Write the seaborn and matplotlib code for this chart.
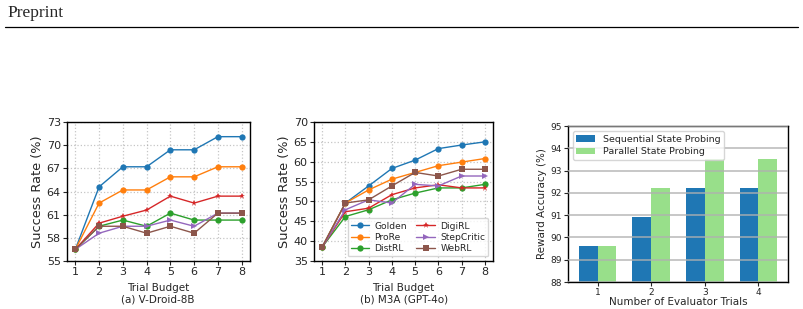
import pandas as pd
import seaborn as sns
import matplotlib.pyplot as plt

# ---- data ----
budget = [1, 2, 3, 4, 5, 6, 7, 8]
methods = ['Golden', 'ProRe', 'DistRL', 'DigiRL', 'StepCritic', 'WebRL']

# (a) V-Droid-8B
vdroid = {
    'Golden':     [56.5, 64.6, 67.2, 67.2, 69.4, 69.4, 71.1, 71.1],
    'ProRe':      [56.5, 62.5, 64.2, 64.2, 65.9, 65.9, 67.2, 67.2],
    'DistRL':     [56.5, 59.5, 60.3, 59.5, 61.2, 60.3, 60.3, 60.3],
    'DigiRL':     [56.5, 59.9, 60.8, 61.6, 63.4, 62.5, 63.4, 63.4],
    'StepCritic': [56.5, 58.6, 59.5, 59.5, 60.3, 59.5, 61.2, 61.2],
    'WebRL':      [56.5, 59.5, 59.5, 58.6, 59.5, 58.6, 61.2, 61.2],
}

# (b) M3A (GPT-4o)
m3a = {
    'Golden':     [38.5, 49.6, 53.9, 58.3, 60.4, 63.3, 64.2, 65.0],
    'ProRe':      [38.5, 49.6, 52.9, 55.6, 57.3, 59.0, 59.9, 60.8],
    'DistRL':     [38.5, 46.2, 47.9, 50.4, 52.1, 53.4, 53.4, 54.3],
    'DigiRL':     [38.5, 47.4, 48.3, 51.7, 53.4, 54.2, 53.4, 53.4],
    'StepCritic': [38.5, 47.9, 50.4, 49.6, 54.3, 53.9, 56.4, 56.4],
    'WebRL':      [38.5, 49.6, 50.4, 53.9, 57.3, 56.4, 58.1, 58.1],
}

# (c) reward accuracy
trials = ['1', '2', '3', '4']
sequential = [89.6, 90.9, 92.2, 92.2]
parallel = [89.6, 92.2, 93.5, 93.5]

colors = {'Golden': '#1f77b4', 'ProRe': '#ff7f0e', 'DistRL': '#2ca02c',
          'DigiRL': '#d62728', 'StepCritic': '#9467bd', 'WebRL': '#8c564b'}
markers = {'Golden': 'o', 'ProRe': 'o', 'DistRL': 'o',
           'DigiRL': '*', 'StepCritic': '>', 'WebRL': 's'}

sns.set_style('white')
plt.rcParams['font.family'] = ['DejaVu Sans']

fig = plt.figure(figsize=(8.04, 3.09), dpi=100)

# page header
fig.text(7 / 804, 1 - 13 / 309, 'Preprint', family='Liberation Serif',
         fontsize=12.5, va='center', ha='left')
fig.add_artist(plt.Line2D([5 / 804, 798 / 804], [1 - 27 / 309, 1 - 27 / 309],
                          color='black', linewidth=0.9))


def axes_px(left, top, right, bottom):
    return fig.add_axes([left / 804, 1 - bottom / 309,
                         (right - left) / 804, (bottom - top) / 309])


def line_panel(ax, data, ylim, yticks):
    for m in methods:
        sns.lineplot(x=budget, y=data[m], ax=ax, color=colors[m], marker=markers[m],
                     markersize=4.5, linewidth=1, markeredgewidth=0, label=m)
    ax.set_ylim(*ylim)
    ax.set_yticks(yticks)
    ax.set_xticks(budget)
    ax.set_xlim(0.65, 8.35)
    ax.grid(True, linestyle=':', color='gray', alpha=0.45, linewidth=0.9)
    ax.tick_params(axis='both', labelsize=8, length=3, direction='out',
                   bottom=True, left=True, pad=1.5)
    ax.set_xlabel('Trial Budget', fontsize=7.5, labelpad=4)
    ax.set_ylabel('Success Rate (%)', fontsize=9.3, labelpad=2)
    for s in ax.spines.values():
        s.set_color('black')
        s.set_linewidth(1)


ax1 = axes_px(67, 122, 250, 261)
line_panel(ax1, vdroid, (55, 73), [55, 58, 61, 64, 67, 70, 73])
ax1.get_legend().remove()
fig.text(158 / 804, 1 - 299 / 309, '(a) V-Droid-8B', fontsize=7.5, ha='center', va='center')

ax2 = axes_px(314, 122, 493, 261)
line_panel(ax2, m3a, (35, 70), [35, 40, 45, 50, 55, 60, 65, 70])
ax2.legend(ncol=2, loc='lower right', fontsize=6.6,
           handlelength=2, columnspacing=1.0, borderpad=0.35, labelspacing=0.25,
           handletextpad=0.6, framealpha=0.8)
fig.text(404 / 804, 1 - 299 / 309, '(b) M3A (GPT-4o)', fontsize=7.5, ha='center', va='center')

# (c) bar chart
ax3 = axes_px(568, 126, 788, 282)
df = pd.DataFrame({
    'trial': trials * 2,
    'acc': sequential + parallel,
    'method': ['Sequential State Probing'] * 4 + ['Parallel State Probing'] * 4,
})
sns.barplot(data=df, x='trial', y='acc', hue='method', ax=ax3,
            palette=['#1f77b4', '#98df8a'], saturation=1, width=0.7, gap=0,
            linewidth=0)
ax3.set_ylim(88, 95)
ax3.set_xlim(-0.55, 3.55)
ax3.set_axisbelow(False)
ax3.yaxis.grid(True, color='#b0b0b0', linewidth=1.4, alpha=0.7)
ax3.tick_params(axis='both', labelsize=6.5, length=3, direction='out',
                bottom=True, left=True, pad=1.5)
ax3.set_xlabel('Number of Evaluator Trials', fontsize=7.5, labelpad=0)
ax3.set_ylabel('Reward Accuracy (%)', fontsize=7.5, labelpad=2)
for s in ax3.spines.values():
    s.set_color('black')
    s.set_linewidth(1)
ax3.legend(loc='upper left', fontsize=6.8, title=None, framealpha=0.8,
           borderpad=0.4, labelspacing=0.4, handlelength=2)

fig.savefig('out.png', dpi=100)
